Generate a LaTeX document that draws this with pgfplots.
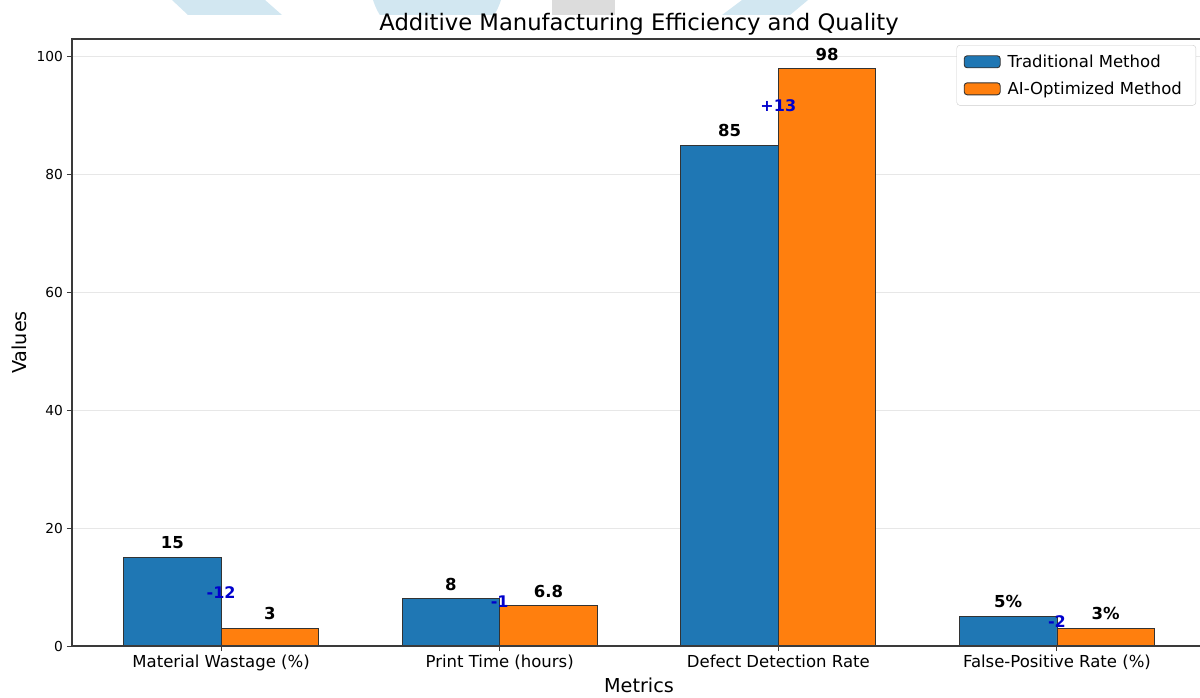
\documentclass[border=0pt]{standalone}
\usepackage{fontspec}
\setmainfont{DejaVu Sans}
\usepackage{pgfplots}
\pgfplotsset{compat=1.18}
\newcommand{\fs}[1]{\fontsize{#1}{#1}\selectfont}
\definecolor{mblue}{HTML}{1F77B4}
\definecolor{morange}{HTML}{FF7F0E}
\definecolor{gridc}{HTML}{E7E7E7}
\definecolor{spine}{HTML}{3A3A3A}
\definecolor{wm}{HTML}{D2E7F1}
\definecolor{wmg}{HTML}{DCDCDC}
\begin{document}
\begin{tikzpicture}[x=1pt,y=1pt]
\path[use as bounding box] (0,0) rectangle (1200,697);
\begin{scope}
\clip (0,682) rectangle (1200,697);
\fill[wm] (188,682) -- (282,682) -- (265,697) -- (172,697) -- cycle;
\fill[wm] (437,717) circle (67);
\fill[wmg] (552,682) rectangle (615,697);
\fill[wm] (722,682) -- (790,682) -- (808,697) -- (742,697) -- cycle;
\end{scope}
\begin{axis}[
  at={(72pt,51pt)}, anchor=south west,
  scale only axis, width=1134pt, height=607pt,
  xmin=-0.535, xmax=3.535, ymin=0, ymax=103.05,
  xtick={0,1,2,3},
  xticklabels={Material Wastage (\%),Print Time (hours),Defect Detection Rate,False-Positive Rate (\%)},
  ytick={0,20,40,60,80,100},
  tick align=outside, major tick length=5pt,
  tick style={spine, line width=1pt},
  xtick pos=bottom, ytick pos=left,
  axis line style={draw=none},
  ymajorgrids, grid style={gridc, line width=1pt},
  /pgf/number format/assume math mode=true,
  yticklabel style={font=\fs{13.75}, inner sep=0pt, xshift=-4pt},
  xticklabel style={font=\fs{16.5}, inner sep=0pt, yshift=-4pt},
  xlabel={Metrics}, ylabel={Values},
  xlabel style={font=\fs{19.2}, at={(axis description cs:0.5,0)}, anchor=north, inner sep=0pt, yshift=-32pt},
  ylabel style={font=\fs{19.2}, at={(axis description cs:-0.0397,0.5)}, anchor=south, inner sep=0pt},
  title={Additive Manufacturing Efficiency and Quality},
  title style={font=\fs{22.7}, at={(axis description cs:0.5,1.004)}, anchor=base, inner sep=0pt},
  legend style={font=\fs{16.5}, draw=gray!40, rounded corners=3pt, fill=white,
    at={(axis description cs:0.9912,0.990)}, anchor=north east,
    row sep=11pt, inner xsep=7pt, inner ysep=8.5pt,
    nodes={inner xsep=7pt, inner ysep=1pt}},
  legend cell align=left,
  clip=false,
]
\addplot[ybar, bar width=0.35, bar shift=-0.175, fill=mblue, draw=black!80, line width=0.9pt,
  nodes near coords, point meta=explicit symbolic,
  nodes near coords style={font=\bfseries\fs{16.5}, text=black, anchor=south, inner sep=0pt, yshift=8pt, xshift=-48.8pt},
  legend image code/.code={\draw[fill=mblue, draw=black!80, line width=0.9pt] (0pt,-6pt) rectangle (36pt,6pt);}]
  coordinates {(0,15) [15] (1,8) [8] (2,85) [85] (3,5) [5\%]};
\addlegendentry{Traditional Method}
\addplot[ybar, bar width=0.35, bar shift=0.175, fill=morange, draw=black!80, line width=0.9pt,
  nodes near coords, point meta=explicit symbolic,
  nodes near coords style={font=\bfseries\fs{16.5}, text=black, anchor=south, inner sep=0pt, yshift=8pt, xshift=48.8pt},
  legend image code/.code={\draw[fill=morange, draw=black!80, line width=0.9pt] (0pt,-6pt) rectangle (36pt,6pt);}]
  coordinates {(0,3) [3] (1,6.8) [6.8] (2,98) [98] (3,3) [3\%]};
\addlegendentry{AI-Optimized Method}
\addplot[draw=none, mark=none, forget plot,
  nodes near coords, point meta=explicit symbolic,
  nodes near coords style={font=\bfseries\fs{16}, text=blue!80!black, anchor=center, inner sep=0pt}]
  coordinates {(0,9) [-12] (1,7.6) [-1] (2,91.8) [+13] (3,4.1) [-2]};
\draw[spine, line width=1.1pt] (rel axis cs:0,0) -- (rel axis cs:1,0);
\draw[spine, line width=1.1pt] (rel axis cs:0,0) -- (rel axis cs:0,1) -- (rel axis cs:1,1);
\end{axis}
\end{tikzpicture}
\end{document}
